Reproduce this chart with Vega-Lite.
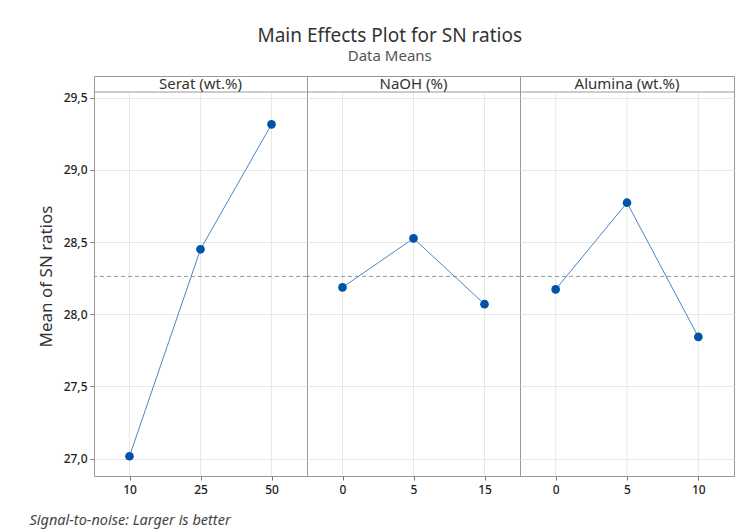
{
  "$schema": "https://vega.github.io/schema/vega-lite/v6.json",
  "autosize": {"type": "pad"},
  "padding": {"left": 28, "top": 26, "right": 5, "bottom": 5},
  "background": "white",
  "bounds": "flush",
  "spacing": 0,
  "title": {
    "text": "Main Effects Plot for SN ratios",
    "subtitle": "Data Means",
    "anchor": "middle",
    "frame": "bounds",
    "dx": 8,
    "offset": 12,
    "font": "Noto Sans",
    "fontSize": 19,
    "fontWeight": "normal",
    "color": "#333333",
    "subtitleFont": "Noto Sans",
    "subtitleFontSize": 15,
    "subtitleColor": "#555555",
    "subtitlePadding": 3
  },
  "config": {
    "view": {"stroke": "#999999", "strokeWidth": 1},
    "font": "Noto Sans",
    "axis": {"labelFont": "Noto Sans", "titleFont": "Noto Sans"}
  },
  "data": {"values": [
    {"factor": "Serat (wt.%)", "level": 10, "pos": 1, "sn": 27.016},
    {"factor": "Serat (wt.%)", "level": 25, "pos": 2, "sn": 28.45},
    {"factor": "Serat (wt.%)", "level": 50, "pos": 3, "sn": 29.316},
    {"factor": "NaOH (%)", "level": 0, "pos": 1, "sn": 28.186},
    {"factor": "NaOH (%)", "level": 5, "pos": 2, "sn": 28.526},
    {"factor": "NaOH (%)", "level": 15, "pos": 3, "sn": 28.07},
    {"factor": "Alumina (wt.%)", "level": 0, "pos": 1, "sn": 28.172},
    {"factor": "Alumina (wt.%)", "level": 5, "pos": 2, "sn": 28.773},
    {"factor": "Alumina (wt.%)", "level": 10, "pos": 3, "sn": 27.843}
  ]},
  "hconcat": [
    {
      "width": 213, "height": 400,
      "transform": [{"filter": "datum.factor === 'Serat (wt.%)'"}],
      "encoding": {
        "y": {"field": "sn", "type": "quantitative",
          "scale": {"domain": [26.879, 29.651], "nice": false, "zero": false},
          "axis": {"values": [27, 27.5, 28, 28.5, 29, 29.5],
            "labelExpr": "replace(format(datum.value, '.1f'), '.', ',')",
            "labelFontSize": 12, "labelFontWeight": 500, "labelColor": "#222222", "labelPadding": 3,
            "tickSize": 4, "tickColor": "#777777", "domain": false,
            "grid": true, "gridColor": "#e8e8e8",
            "title": "Mean of SN ratios", "titleFontSize": 17, "titleFontWeight": "normal",
            "titleColor": "#333333", "titlePadding": 8}}
      },
      "layer": [
        {"mark": {"type": "rule", "color": "#e8e8e8"},
         "encoding": {
           "x": {"field": "level", "type": "ordinal", "scale": {"type": "point", "padding": 0.5},
             "axis": {"title": "Signal-to-noise: Larger is better", "titleFontStyle": "italic", "titleFontWeight": "normal",
               "titleFontSize": 14.5, "titleColor": "#444444", "titleAnchor": "start", "titleAlign": "left",
               "titleX": -65, "titleY": 48, "titleBaseline": "alphabetic",
               "labelAngle": 0, "labelFontSize": 12, "labelFontWeight": 500, "labelColor": "#222222", "labelPadding": 4,
               "tickSize": 4, "tickColor": "#777777", "domain": false, "grid": false}},
           "y": {"datum": 26.879, "type": "quantitative"},
           "y2": {"datum": 29.54}}},
        {"transform": [{"filter": "datum.pos === 2"}],
         "mark": {"type": "rule", "color": "#999999"},
         "encoding": {"y": {"datum": 29.54, "type": "quantitative"}}},
        {"transform": [{"filter": "datum.pos === 2"}],
         "mark": {"type": "rule", "color": "#999999", "strokeDash": [4, 3]},
         "encoding": {"y": {"datum": 28.262, "type": "quantitative"}}},
        {"mark": {"type": "line", "color": "#4a86c8", "strokeWidth": 1},
         "encoding": {"x": {"field": "level", "type": "ordinal", "scale": {"type": "point", "padding": 0.5}}}},
        {"mark": {"type": "point", "filled": true, "color": "#0054a6", "opacity": 1, "size": 75},
         "encoding": {"x": {"field": "level", "type": "ordinal", "scale": {"type": "point", "padding": 0.5}}}},
        {"transform": [{"filter": "datum.pos === 2"}],
         "mark": {"type": "text", "fontSize": 15, "color": "#333333", "baseline": "middle"},
         "encoding": {"x": {"field": "level", "type": "ordinal", "scale": {"type": "point", "padding": 0.5}},
           "y": {"datum": 29.5955, "type": "quantitative"},
           "text": {"field": "factor"}}}
      ]
    },
    {
      "width": 213, "height": 400,
      "transform": [{"filter": "datum.factor === 'NaOH (%)'"}],
      "encoding": {
        "y": {"field": "sn", "type": "quantitative",
          "scale": {"domain": [26.879, 29.651], "nice": false, "zero": false},
          "axis": {"values": [27, 27.5, 28, 28.5, 29, 29.5], "labels": false, "ticks": false, "domain": false,
            "grid": true, "gridColor": "#e8e8e8", "title": null}}
      },
      "layer": [
        {"mark": {"type": "rule", "color": "#e8e8e8"},
         "encoding": {
           "x": {"field": "level", "type": "ordinal", "scale": {"type": "point", "padding": 0.5},
             "axis": {"title": null, "labelAngle": 0, "labelFontSize": 12, "labelFontWeight": 500, "labelColor": "#222222", "labelPadding": 4,
               "tickSize": 4, "tickColor": "#777777", "domain": false, "grid": false}},
           "y": {"datum": 26.879, "type": "quantitative"},
           "y2": {"datum": 29.54}}},
        {"transform": [{"filter": "datum.pos === 2"}],
         "mark": {"type": "rule", "color": "#999999"},
         "encoding": {"y": {"datum": 29.54, "type": "quantitative"}}},
        {"transform": [{"filter": "datum.pos === 2"}],
         "mark": {"type": "rule", "color": "#999999", "strokeDash": [4, 3]},
         "encoding": {"y": {"datum": 28.262, "type": "quantitative"}}},
        {"mark": {"type": "line", "color": "#4a86c8", "strokeWidth": 1},
         "encoding": {"x": {"field": "level", "type": "ordinal", "scale": {"type": "point", "padding": 0.5}}}},
        {"mark": {"type": "point", "filled": true, "color": "#0054a6", "opacity": 1, "size": 75},
         "encoding": {"x": {"field": "level", "type": "ordinal", "scale": {"type": "point", "padding": 0.5}}}},
        {"transform": [{"filter": "datum.pos === 2"}],
         "mark": {"type": "text", "fontSize": 15, "color": "#333333", "baseline": "middle"},
         "encoding": {"x": {"field": "level", "type": "ordinal", "scale": {"type": "point", "padding": 0.5}},
           "y": {"datum": 29.5955, "type": "quantitative"},
           "text": {"field": "factor"}}}
      ]
    },
    {
      "width": 214, "height": 400,
      "transform": [{"filter": "datum.factor === 'Alumina (wt.%)'"}],
      "encoding": {
        "y": {"field": "sn", "type": "quantitative",
          "scale": {"domain": [26.879, 29.651], "nice": false, "zero": false},
          "axis": {"values": [27, 27.5, 28, 28.5, 29, 29.5], "labels": false, "ticks": false, "domain": false,
            "grid": true, "gridColor": "#e8e8e8", "title": null}}
      },
      "layer": [
        {"mark": {"type": "rule", "color": "#e8e8e8"},
         "encoding": {
           "x": {"field": "level", "type": "ordinal", "scale": {"type": "point", "padding": 0.5},
             "axis": {"title": null, "labelAngle": 0, "labelFontSize": 12, "labelFontWeight": 500, "labelColor": "#222222", "labelPadding": 4,
               "tickSize": 4, "tickColor": "#777777", "domain": false, "grid": false}},
           "y": {"datum": 26.879, "type": "quantitative"},
           "y2": {"datum": 29.54}}},
        {"transform": [{"filter": "datum.pos === 2"}],
         "mark": {"type": "rule", "color": "#999999"},
         "encoding": {"y": {"datum": 29.54, "type": "quantitative"}}},
        {"transform": [{"filter": "datum.pos === 2"}],
         "mark": {"type": "rule", "color": "#999999", "strokeDash": [4, 3]},
         "encoding": {"y": {"datum": 28.262, "type": "quantitative"}}},
        {"mark": {"type": "line", "color": "#4a86c8", "strokeWidth": 1},
         "encoding": {"x": {"field": "level", "type": "ordinal", "scale": {"type": "point", "padding": 0.5}}}},
        {"mark": {"type": "point", "filled": true, "color": "#0054a6", "opacity": 1, "size": 75},
         "encoding": {"x": {"field": "level", "type": "ordinal", "scale": {"type": "point", "padding": 0.5}}}},
        {"transform": [{"filter": "datum.pos === 2"}],
         "mark": {"type": "text", "fontSize": 15, "color": "#333333", "baseline": "middle"},
         "encoding": {"x": {"field": "level", "type": "ordinal", "scale": {"type": "point", "padding": 0.5}},
           "y": {"datum": 29.5955, "type": "quantitative"},
           "text": {"field": "factor"}}}
      ]
    }
  ]
}
